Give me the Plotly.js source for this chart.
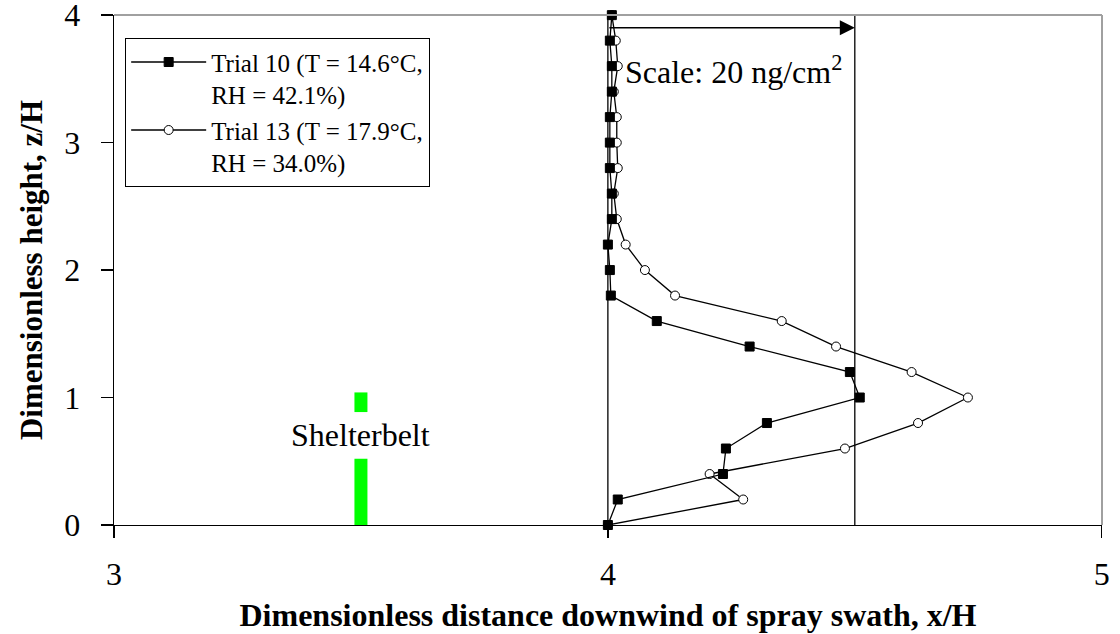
<!DOCTYPE html>
<html>
<head>
<meta charset="utf-8">
<script src="https://cdn.plot.ly/plotly-3.0.1.min.js"></script>
<style>html,body{margin:0;padding:0;background:#fff;}#chart{width:1120px;height:634px;}</style>
</head>
<body>
<div id="chart"></div>
<script>
// Dimensionless height z/H (shared by both trials)
const heights = [0, 0.2, 0.4, 0.6, 0.8, 1.0, 1.2, 1.4, 1.6, 1.8, 2.0, 2.2, 2.4, 2.6, 2.8, 3.0, 3.2, 3.4, 3.6, 3.8, 4.0];
// Trial 10: x/H position of deposit profile (filled squares)
const trial10X = [4.0, 4.02, 4.233, 4.239, 4.322, 4.51, 4.49, 4.287, 4.099, 4.006, 4.004, 4.0, 4.008, 4.008, 4.004, 4.004, 4.004, 4.008, 4.008, 4.004, 4.008];
// Trial 13: x/H position of deposit profile (open circles)
const trial13X = [4.0, 4.274, 4.206, 4.48, 4.628, 4.729, 4.615, 4.462, 4.352, 4.136, 4.075, 4.036, 4.018, 4.012, 4.02, 4.018, 4.018, 4.012, 4.02, 4.016, 4.008];
const trial10Name = 'Trial 10 (T = 14.6°C,<br>RH = 42.1%)';
const trial13Name = 'Trial 13 (T = 17.9°C,<br>RH = 34.0%)';
// Shelterbelt marker (x/H position, height segments split around label)
const shelterX = [3.5, 3.5, null, 3.5, 3.5];
const shelterY = [0, 0.52, null, 0.886, 1.04];
const shelterLabel = 'Shelterbelt';
// Scale reference
const baselineX = 4.0;
const scaleX = 4.5;
const scaleArrowY = 3.9;
const scaleLabel = 'Scale: 20 ng/cm<sup>2</sup>';
const xTicks = [3, 4, 5];
const yTicks = [0, 1, 2, 3, 4];

const serif = "'Liberation Serif', 'Times New Roman', Times, serif";

const traces = [
  {
    x: shelterX, y: shelterY, type: 'scatter', mode: 'lines',
    line: {color: '#00ff00', width: 13}, showlegend: false, hoverinfo: 'skip', connectgaps: false
  },
  {
    x: trial13X, y: heights, type: 'scatter', mode: 'lines+markers', name: trial13Name, cliponaxis: false,
    line: {color: '#000', width: 1.3},
    marker: {symbol: 'circle', size: 9, color: '#fff', line: {color: '#000', width: 1}}
  },
  {
    x: trial10X, y: heights, type: 'scatter', mode: 'lines+markers', name: trial10Name, cliponaxis: false,
    line: {color: '#000', width: 1.3},
    marker: {symbol: 'square', size: 9, color: '#000', line: {color: '#000', width: 1}}
  }
];

const layout = {
  width: 1120, height: 634,
  margin: {l: 114, r: 18, t: 15, b: 109},
  paper_bgcolor: '#fff', plot_bgcolor: '#fff',
  font: {family: serif, color: '#000', size: 32},
  showlegend: true,
  legend: {
    x: 0.011, y: 0.955, xanchor: 'left', yanchor: 'top',
    bgcolor: '#fff', bordercolor: '#000', borderwidth: 1.3,
    font: {family: serif, size: 25, color: '#000'},
    traceorder: 'reversed', valign: 'top', itemwidth: 75, tracegroupgap: 0
  },
  xaxis: {
    range: [3, 5.0005], tickvals: xTicks, ticktext: xTicks.map(String),
    showgrid: false, zeroline: false, showline: true, linecolor: '#000', linewidth: 1.3,
    ticks: 'outside', ticklen: 12, tickwidth: 1.3, tickcolor: '#000', ticklabeloverflow: 'allow',
    tickfont: {family: serif, size: 32, color: '#000'}, ticklabelstandoff: 8,
    title: {text: '<b>Dimensionless distance downwind of spray swath, x/H</b>', font: {family: serif, size: 32, color: '#000'}, standoff: 13}
  },
  yaxis: {
    range: [0, 4.001], tickvals: yTicks, ticktext: yTicks.map(String),
    showgrid: false, zeroline: false, showline: true, linecolor: '#000', linewidth: 1.3,
    ticks: 'outside', ticklen: 12, tickwidth: 1.3, tickcolor: '#000', ticklabeloverflow: 'allow',
    tickfont: {family: serif, size: 32, color: '#000'}, ticklabelstandoff: 14,
    title: {text: '<b>Dimensionless height, z/H</b>', font: {family: serif, size: 31, color: '#000'}, standoff: 12}
  },
  shapes: [
    {type: 'line', xref: 'x', yref: 'y', x0: baselineX, x1: baselineX, y0: 0, y1: 4, line: {color: '#000', width: 1.3}, layer: 'below'},
    {type: 'line', xref: 'x', yref: 'y', x0: scaleX, x1: scaleX, y0: 0, y1: 4, line: {color: '#000', width: 1.3}, layer: 'below'},
    {type: 'line', xref: 'paper', yref: 'paper', x0: 0, x1: 1, y0: 1, y1: 1, line: {color: '#a0a0a0', width: 2}},
    {type: 'line', xref: 'paper', yref: 'paper', x0: 1, x1: 1, y0: 0, y1: 1, line: {color: '#a0a0a0', width: 2}}
  ],
  annotations: [
    {x: scaleX, y: scaleArrowY, ax: baselineX, ay: scaleArrowY, xref: 'x', yref: 'y', axref: 'x', ayref: 'y',
     text: '', showarrow: true, arrowhead: 2, arrowsize: 2, arrowwidth: 1.5, arrowcolor: '#000', standoff: 0},
    {x: baselineX + 0.03, y: 3.57, xref: 'x', yref: 'y', text: scaleLabel, showarrow: false,
     xanchor: 'left', yanchor: 'middle', font: {family: serif, size: 32, color: '#000'}},
    {x: 3.5, y: 0.71, xref: 'x', yref: 'y', text: shelterLabel, showarrow: false,
     xanchor: 'center', yanchor: 'middle', font: {family: serif, size: 32, color: '#000'}}
  ]
};

Plotly.newPlot('chart', traces, layout, {displayModeBar: false, staticPlot: true});
</script>
</body>
</html>
